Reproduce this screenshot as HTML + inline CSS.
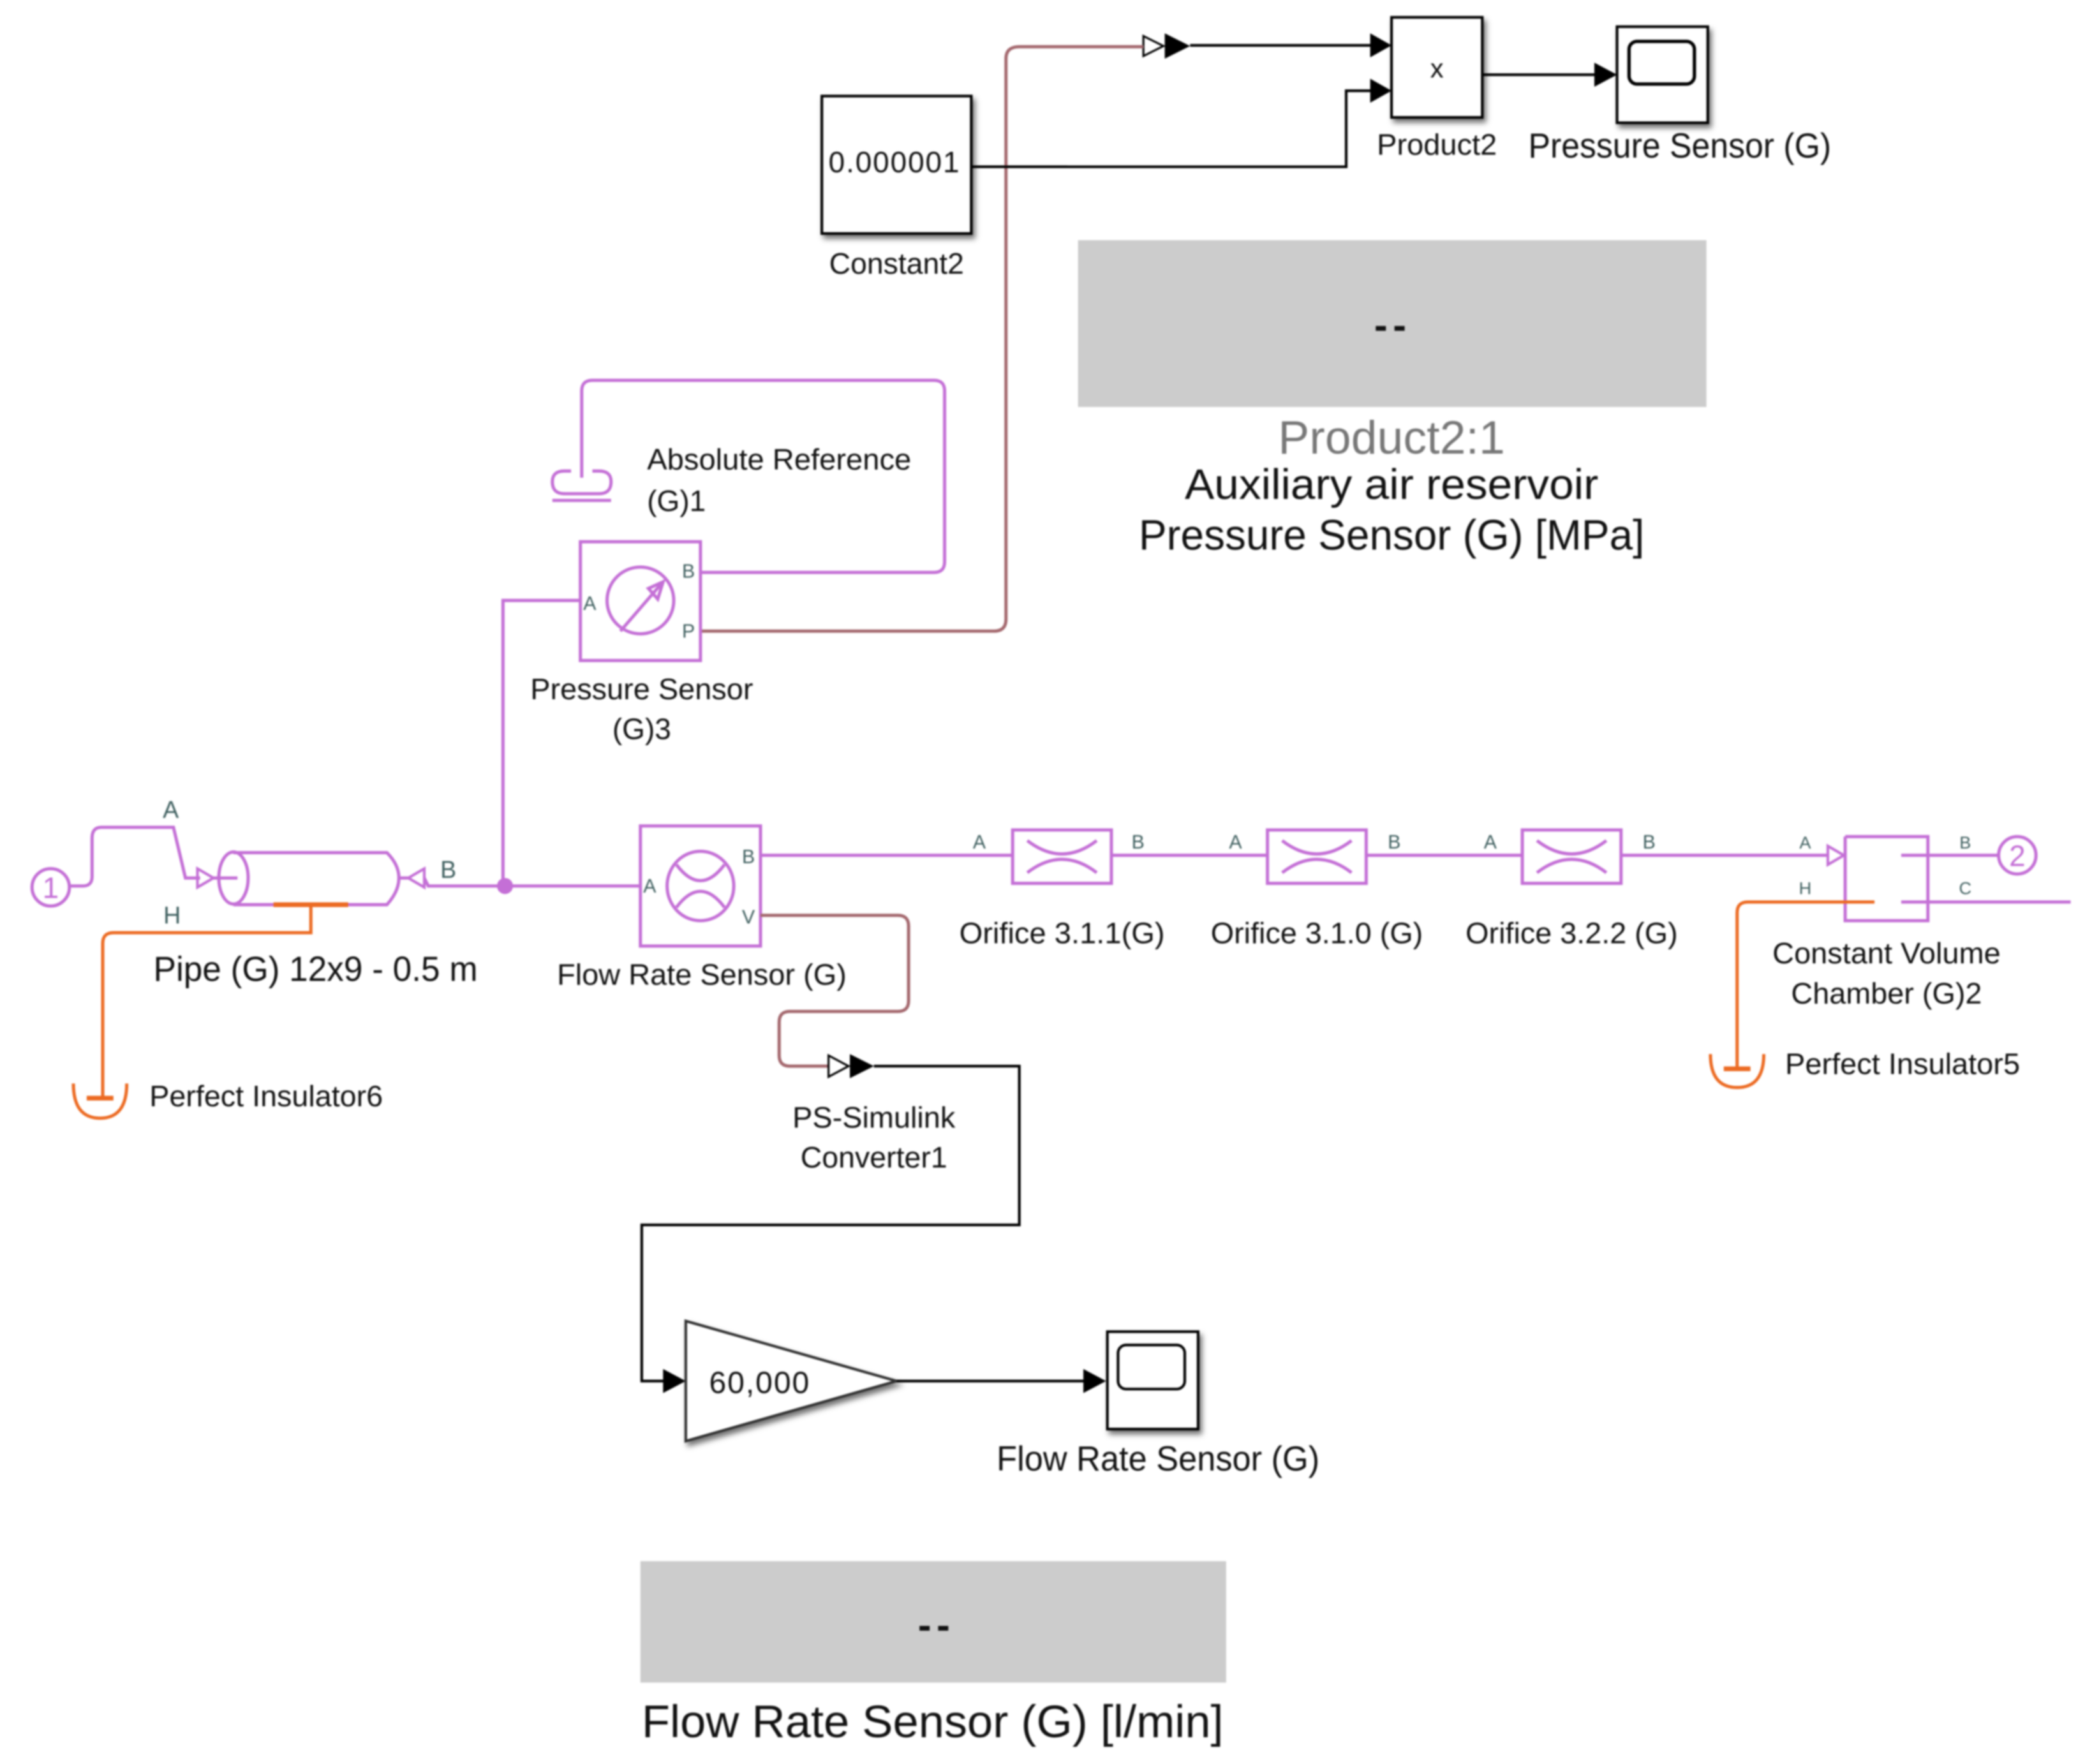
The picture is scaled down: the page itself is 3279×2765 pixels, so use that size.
<!DOCTYPE html>
<html><head><meta charset="utf-8"><style>
html,body{margin:0;padding:0;background:#fff}
svg{display:block;filter:blur(1.2px)}
text{font-family:"Liberation Sans",sans-serif;fill:#111}
.c{text-anchor:middle}
.p{font-size:14.5px;fill:#3f5f5f;text-anchor:middle}
.l{font-size:22px}
.k{fill:none;stroke:#000;stroke-width:2}
.m{fill:none;stroke:#c46fd6;stroke-width:2.4}
.b{fill:none;stroke:#a4686e;stroke-width:2.4}
.o{fill:none;stroke:#ec6a22;stroke-width:2.4}
.bx{fill:#fff;stroke:#000;stroke-width:2;filter:url(#s)}
</style></head><body>
<svg width="3279" height="2765" viewBox="0 0 1568 1322" preserveAspectRatio="none" xmlns="http://www.w3.org/2000/svg">
<defs><filter id="s" x="-10%" y="-10%" width="125%" height="125%"><feDropShadow dx="2" dy="3" stdDeviation="2" flood-color="#000" flood-opacity=".55"/></filter></defs>
<rect width="1568" height="1322" fill="#fff"/>

<!-- gray display boxes -->
<rect x="808" y="180" width="471" height="125" fill="#ccc"/>
<rect x="480" y="1170" width="439" height="91" fill="#ccc"/>
<text x="1042" y="254" class="c" font-size="30" font-weight="bold" textLength="24">--</text>
<text x="700" y="1228" class="c" font-size="30" font-weight="bold" textLength="24">--</text>
<text x="1043" y="340" class="c" font-size="35" style="fill:#777" textLength="170">Product2:1</text>
<text x="1043" y="374" class="c" font-size="32" lengthAdjust="spacingAndGlyphs" textLength="310">Auxiliary air reservoir</text>
<text x="1043" y="412" class="c" font-size="32" lengthAdjust="spacingAndGlyphs" textLength="379">Pressure Sensor (G) [MPa]</text>
<text x="699" y="1302" class="c" font-size="34" lengthAdjust="spacingAndGlyphs" textLength="436">Flow Rate Sensor (G) [l/min]</text>

<!-- Constant, Product, Scope -->
<rect class="bx" x="616" y="72" width="112" height="103"/>
<text x="670" y="129" class="c" font-size="22" textLength="98">0.000001</text>
<text x="672" y="205" class="c l" lengthAdjust="spacingAndGlyphs" textLength="101">Constant2</text>
<rect class="bx" x="1043" y="13" width="68" height="75"/>
<text x="1077" y="58" class="c" font-size="20">x</text>
<text x="1077" y="116" class="c l" lengthAdjust="spacingAndGlyphs" textLength="90">Product2</text>
<rect class="bx" x="1212" y="20" width="68" height="72"/>
<rect x="1221" y="31" width="49" height="32" rx="6" fill="#fff" stroke="#000" stroke-width="2.5"/>
<text x="1259" y="118" class="c" font-size="26" lengthAdjust="spacingAndGlyphs" textLength="227">Pressure Sensor (G)</text>

<!-- black wires -->
<path class="k" d="M892 34H1030"/>
<path class="k" d="M728 125H1009V68H1030"/>
<path class="k" d="M1111 56H1198"/>
<path d="M1027 25L1043 34L1027 43Z M1027 59L1043 68L1027 77Z M1195 47L1212 56L1195 65Z"/>
<path d="M857 27L872 34.500L857 42Z" fill="#fff" stroke="#000" stroke-width="1.500"/>
<path d="M873 25L892 34.500L873 44Z"/>

<!-- brown wire top -->
<path class="b" d="M526 473H745Q754 473 754 464V44Q754 35 764 35H857"/>

<!-- re-draw constant wire over brown -->
<path class="k" d="M730 125H800"/>

<!-- Absolute reference -->
<path class="m" d="M526 429H700Q708 429 708 421V293Q708 285 700 285H444Q436 285 436 293V358"/>
<path class="m" d="M428 353H423Q414 353 414 361Q414 370 423 370H449Q458 370 458 361Q458 353 449 353H444"/>
<path class="m" d="M414 375H458"/>
<text x="485" y="352" class="l" lengthAdjust="spacingAndGlyphs" textLength="198">Absolute Reference</text>
<text x="485" y="383" class="l" lengthAdjust="spacingAndGlyphs" textLength="44">(G)1</text>

<!-- Pressure sensor -->
<rect class="m" x="435" y="406" width="90" height="89" stroke-width="2.600"/>
<circle class="m" cx="480" cy="450" r="25"/>
<path class="m" d="M465 473L497 436M486 441L497 436L493 449Z"/>
<text x="442" y="457" class="p">A</text>
<text x="516" y="433" class="p">B</text>
<text x="516" y="478" class="p">P</text>
<path class="m" d="M435 450H377V664"/>
<text x="481" y="524" class="c l" lengthAdjust="spacingAndGlyphs" textLength="167">Pressure Sensor</text>
<text x="481" y="554" class="c l" lengthAdjust="spacingAndGlyphs" textLength="44">(G)3</text>

<!-- Inport 1 and pipe -->
<circle class="m" cx="38" cy="665" r="14"/>
<text x="38" y="673" class="c" font-size="22" style="fill:#c46fd6">1</text>
<path class="m" d="M52 664H62Q69 664 69 657V628Q69 620 76 620H130L139 658H150"/>
<path d="M148 651L160 658L148 665Z" fill="none" stroke="#c46fd6" stroke-width="2"/>
<path class="m" d="M160 658H178"/>
<text x="128" y="613" class="c" font-size="18" style="fill:#3f5f5f">A</text>
<ellipse class="m" cx="175" cy="658" rx="11" ry="19.500"/>
<path class="m" d="M175 639H290Q299 648 299 658Q299 668 290 678H175"/>
<path class="m" d="M299 658H306"/>
<path d="M318 651L306 658L318 665Z" fill="none" stroke="#c46fd6" stroke-width="2"/>
<path class="m" d="M318 658L321 664H480"/>
<circle cx="378.500" cy="664" r="6" fill="#c46fd6"/>
<text x="336" y="658" class="c" font-size="18" style="fill:#3f5f5f">B</text>
<text x="129" y="692" class="c" font-size="18" style="fill:#3f5f5f">H</text>
<path d="M205 678H261" stroke="#ec6a22" stroke-width="3.500" fill="none"/>
<path class="o" d="M233 678V699H85Q77 699 77 707V822"/>
<path class="o" d="M55 812Q55 838 75 838Q95 838 95 812"/>
<path d="M65 823H85" stroke="#ec6a22" stroke-width="3.500"/>
<text x="112" y="829" class="l" lengthAdjust="spacingAndGlyphs" textLength="175">Perfect Insulator6</text>
<text x="115" y="735" font-size="26" lengthAdjust="spacingAndGlyphs" textLength="243">Pipe (G) 12x9 - 0.5 m</text>

<!-- Flow sensor -->
<rect class="m" x="480" y="619" width="90" height="90" stroke-width="2.600"/>
<ellipse class="m" cx="525" cy="664" rx="25" ry="26"/>
<path class="m" d="M507 648Q525 672 543 648M507 680Q525 656 543 680"/>
<text x="487" y="669" class="p">A</text>
<text x="561" y="647" class="p">B</text>
<text x="561" y="692" class="p">V</text>
<text x="526" y="738" class="c l" lengthAdjust="spacingAndGlyphs" textLength="217">Flow Rate Sensor (G)</text>
<path class="m" d="M570 641H759"/>
<path class="b" d="M570 686H673Q681 686 681 694V750Q681 758 673 758H592Q584 758 584 766V791Q584 799 592 799H621"/>
<path d="M621 791L636 799L621 807Z" fill="#fff" stroke="#000" stroke-width="1.500"/>
<path d="M637 790L655 799L637 808Z"/>
<path class="k" d="M655 799H764V918H481V1035H500"/>
<path d="M497 1026L514 1035L497 1044Z"/>
<text x="655" y="845" class="c l" lengthAdjust="spacingAndGlyphs" textLength="122">PS-Simulink</text>
<text x="655" y="875" class="c l" lengthAdjust="spacingAndGlyphs" textLength="110">Converter1</text>

<!-- Gain + scope -->
<path d="M514 990L672 1035L514 1080Z" fill="#fff" stroke="#333" stroke-width="2" style="filter:url(#s)"/>
<text x="569" y="1044" class="c" font-size="23" textLength="75">60,000</text>
<path class="k" d="M672 1035H815"/>
<path d="M812 1026L829 1035L812 1044Z"/>
<rect class="bx" x="830" y="998" width="68" height="73"/>
<rect x="838" y="1008" width="50" height="33" rx="6" fill="#fff" stroke="#000" stroke-width="2"/>
<text x="868" y="1102" class="c" font-size="26" lengthAdjust="spacingAndGlyphs" textLength="242">Flow Rate Sensor (G)</text>

<!-- Orifices -->
<rect class="m" x="759" y="622" width="74" height="40"/>
<path class="m" d="M770 630Q796 650 822 630M770 654Q796 634 822 654"/>
<rect class="m" x="950" y="622" width="74" height="40"/>
<path class="m" d="M961 630Q987 650 1013 630M961 654Q987 634 1013 654"/>
<rect class="m" x="1141" y="622" width="74" height="40"/>
<path class="m" d="M1152 630Q1178 650 1204 630M1152 654Q1178 634 1204 654"/>
<path class="m" d="M833 641H950M1024 641H1141M1215 641H1370"/>
<text x="734" y="636" class="p">A</text><text x="853" y="636" class="p">B</text>
<text x="926" y="636" class="p">A</text><text x="1045" y="636" class="p">B</text>
<text x="1117" y="636" class="p">A</text><text x="1236" y="636" class="p">B</text>
<text x="796" y="707" class="c l" lengthAdjust="spacingAndGlyphs" textLength="154">Orifice 3.1.1(G)</text>
<text x="987" y="707" class="c l" lengthAdjust="spacingAndGlyphs" textLength="159">Orifice 3.1.0 (G)</text>
<text x="1178" y="707" class="c l" lengthAdjust="spacingAndGlyphs" textLength="159">Orifice 3.2.2 (G)</text>

<!-- Chamber -->
<path d="M1370 634L1382 641L1370 648Z" fill="none" stroke="#c46fd6" stroke-width="2"/>
<path class="m" d="M1383 627H1445V641M1445 676V690H1383V627"/>
<rect x="1439" y="646" width="12" height="24" fill="#fff"/>
<path class="m" d="M1445 641V676"/>
<path class="m" d="M1425 641H1498"/>
<circle class="m" cx="1512" cy="641" r="14"/>
<text x="1512" y="649" class="c" font-size="22" style="fill:#c46fd6">2</text>
<path class="m" d="M1425 676H1552"/>
<path class="o" d="M1405 676H1310Q1302 676 1302 684V802"/>
<path class="o" d="M1282 790Q1282 815 1302 815Q1322 815 1322 790"/>
<path d="M1292 801H1312" stroke="#ec6a22" stroke-width="3.500"/>
<text x="1353" y="636" class="p" style="font-size:13px">A</text>
<text x="1473" y="636" class="p" style="font-size:13px">B</text>
<text x="1353" y="670" class="p" style="font-size:13px">H</text>
<text x="1473" y="670" class="p" style="font-size:13px">C</text>
<text x="1414" y="722" class="c l" lengthAdjust="spacingAndGlyphs" textLength="171">Constant Volume</text>
<text x="1414" y="752" class="c l" lengthAdjust="spacingAndGlyphs" textLength="143">Chamber (G)2</text>
<text x="1338" y="805" class="l" lengthAdjust="spacingAndGlyphs" textLength="176">Perfect Insulator5</text>
</svg>
</body></html>
